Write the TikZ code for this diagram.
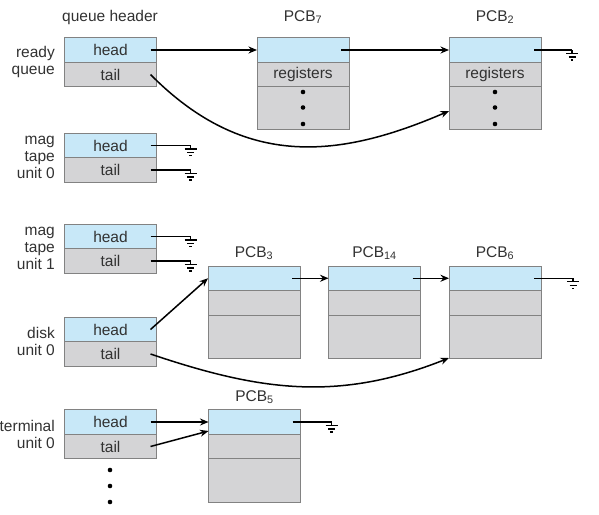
\documentclass[tikz,border=0pt]{standalone}
\usepackage{fontspec}
\setmainfont{Liberation Sans}
\usetikzlibrary{arrows.meta}
\definecolor{hb}{RGB}{200,232,248}
\definecolor{cg}{RGB}{212,212,214}
\definecolor{bd}{RGB}{130,130,130}
\definecolor{tx}{RGB}{50,50,50}
\begin{document}
\begin{tikzpicture}[x=1pt,y=-1pt,
  font=\fontsize{15.5}{17}\selectfont, text=tx,
  cell/.style={draw=bd, line width=1pt, minimum width=92pt, inner sep=0pt, outer sep=0pt},
  hcell/.style={cell, fill=hb, minimum height=24.5pt},
  tcell/.style={cell, fill=cg, minimum height=24.5pt},
  bcell/.style={cell, fill=cg, minimum height=43pt},
  lab/.style={align=right, anchor=east, inner sep=0pt},
  ttl/.style={inner sep=0pt},
  ptr/.style={line width=1.5pt, -{Stealth[length=8.5pt,width=7pt]}},
  gline/.style={line width=1.5pt},
  ground/.pic={\draw[line width=1.4pt] (0,0)--(0,3.5) (-6,3.5)--(6,3.5) (-3.5,7)--(3.5,7) (-1.2,10)--(1.2,10);}
]
\useasboundingbox (0,0) rectangle (599,514);

% titles
\node[ttl] (qh) at (110,17) {queue header};
\node[ttl] (t7) at (303,17) {PCB\textsubscript{7}};
\node[ttl] (t2) at (495,17) {PCB\textsubscript{2}};
\node[ttl] (t3) at (254,253) {PCB\textsubscript{3}};
\node[ttl] (t14) at (374.5,253) {PCB\textsubscript{14}};
\node[ttl] (t6) at (495,253) {PCB\textsubscript{6}};
\node[ttl] (t5) at (254.5,397) {PCB\textsubscript{5}};

% queue headers
\node[hcell] (rqh) at (110.5,50) {head};
\node[tcell,anchor=north] (rqt) at (rqh.south) {tail};
\node[hcell] (m0h) at (110.5,145.5) {head};
\node[tcell,anchor=north] (m0t) at (m0h.south) {tail};
\node[hcell] (m1h) at (110.5,236.5) {head};
\node[tcell,anchor=north] (m1t) at (m1h.south) {tail};
\node[hcell] (dkh) at (110.5,329.5) {head};
\node[tcell,anchor=north] (dkt) at (dkh.south) {tail};
\node[hcell] (tmh) at (110.5,422) {head};
\node[tcell,anchor=north] (tmt) at (tmh.south) {tail};

% side labels
\node[lab] (lrq) at ([xshift=-9.5pt]rqh.south west) {ready\\queue};
\node[lab] (lm0) at ([xshift=-9.5pt]m0h.south west) {mag\\tape\\unit 0};
\node[lab] (lm1) at ([xshift=-9.5pt]m1h.south west) {mag\\tape\\unit 1};
\node[lab] (ldk) at ([xshift=-9.5pt]dkh.south west) {disk\\unit 0};
\node[lab] (ltm) at ([xshift=-9.5pt]tmh.south west) {terminal\\unit 0};

% PCBs
\node[hcell] (p7h) at (303,50) {};
\node[tcell,anchor=north] (p7r) at (p7h.south) {registers};
\node[bcell,anchor=north,minimum height=42.5pt] (p7b) at (p7r.south) {};
\node[hcell] (p2h) at (495,50) {};
\node[tcell,anchor=north] (p2r) at (p2h.south) {registers};
\node[bcell,anchor=north,minimum height=42.5pt] (p2b) at (p2r.south) {};

\node[hcell] (p3h) at (254,278.25) {};
\node[tcell,anchor=north] (p3r) at (p3h.south) {};
\node[bcell,anchor=north] (p3b) at (p3r.south) {};
\node[hcell] (p14h) at (374.5,278.25) {};
\node[tcell,anchor=north] (p14r) at (p14h.south) {};
\node[bcell,anchor=north] (p14b) at (p14r.south) {};
\node[hcell] (p6h) at (495,278.25) {};
\node[tcell,anchor=north] (p6r) at (p6h.south) {};
\node[bcell,anchor=north] (p6b) at (p6r.south) {};

\node[hcell] (p5h) at (254.5,422) {};
\node[tcell,anchor=north] (p5r) at (p5h.south) {};
\node[bcell,anchor=north,minimum height=44pt] (p5b) at (p5r.south) {};

% dots
\foreach \yy in {92,107.5,124} {
  \fill[black] (303,\yy) circle (2.3);
  \fill[black] (495,\yy) circle (2.3);
}
\foreach \yy in {470,486,502} \fill[black] (110,\yy) circle (2.3);

% pointers
\draw[ptr] ([xshift=-6pt]rqh.east) -- (p7h.west);
\draw[ptr] ([xshift=-8pt]p7h.east) -- (p2h.west);
\draw[ptr] ([xshift=-6pt]rqt.east) .. controls (245,170) and (340,158) .. ([yshift=-3pt]p2b.west);

\draw[ptr] ([xshift=-6pt]dkh.east) -- (p3h.west);
\draw[ptr] ([xshift=-8pt]p3h.east) -- (p14h.west);
\draw[ptr] ([xshift=-8pt]p14h.east) -- (p6h.west);
\draw[ptr] ([xshift=-6pt]dkt.east) .. controls (260,391) and (338,402) .. (p6b.south west);

\draw[ptr] ([xshift=-6pt]tmh.east) -- (p5h.west);
\draw[ptr] ([xshift=-6pt]tmt.east) -- ([yshift=-9pt]p5h.west);

% grounds
\coordinate (g1) at ([xshift=34pt]m0h.east);
\coordinate (g2) at ([xshift=34pt]m0t.east);
\coordinate (g3) at ([xshift=34pt]m1h.east);
\coordinate (g4) at ([xshift=34pt]m1t.east);
\coordinate (g5) at ([xshift=31pt]p2h.east);
\coordinate (g6) at ([xshift=32pt]p6h.east);
\coordinate (g7) at ([xshift=31pt]p5h.east);
\draw[gline] ([xshift=-6pt]m0h.east) -- (g1);
\draw[gline] ([xshift=-6pt]m0t.east) -- (g2);
\draw[gline] ([xshift=-6pt]m1h.east) -- (g3);
\draw[gline] ([xshift=-6pt]m1t.east) -- (g4);
\draw[gline] ([xshift=-7pt]p2h.east) -- (g5);
\draw[gline] ([xshift=-7pt]p6h.east) -- (g6);
\draw[gline] ([xshift=-8pt]p5h.east) -- (g7);
\foreach \g in {g1,g2,g3,g4,g5,g6,g7} \pic at (\g) {ground};
\end{tikzpicture}
\end{document}
